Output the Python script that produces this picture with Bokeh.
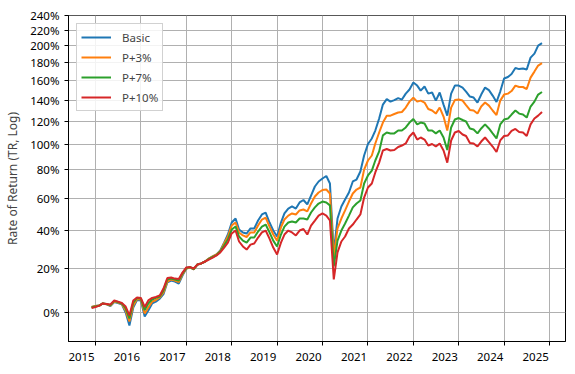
from datetime import datetime
import pandas as pd
from bokeh.plotting import figure
from bokeh.models import (Range1d, FixedTicker, CustomJSTickFormatter, DatetimeAxis,
                          Legend, LegendItem, ColumnDataSource)
from bokeh.embed import file_html
from bokeh.resources import INLINE

# ---- data (cumulative total return, %, monthly) ----
start_month = "2014-12-01"
n_months = 120

basic = [2.3, 2.7, 2.9, 3.8, 3.4, 2.7, 4.4, 4.0, 3.4, 0.0, -5.2, 2.1,
         5.3, 5.1, -1.6, 0.8, 3.8, 4.6, 5.9, 7.9, 13.2, 14.1, 13.6, 12.7,
         16.5, 19.9, 20.4, 19.4, 21.9, 22.4, 23.4, 24.9, 26.0, 27.0, 29.1, 33.4,
         37.9, 44.9, 47.3, 40.8, 39.1, 38.5, 41.4, 41.4, 46.1, 49.8, 51.0, 44.9,
         40.2, 36.8, 44.9, 50.4, 53.5, 54.8, 53.5, 57.4, 59.0, 56.1, 61.9, 68.1,
         71.6, 73.7, 75.5, 70.2, 28.1, 47.3, 54.8, 59.3, 64.0, 71.6, 73.0, 78.8,
         91.0, 100.3, 104.9, 111.7, 122.4, 135.6, 141.0, 138.5, 140.0, 142.0, 140.5, 146.5,
         150.7, 158.0, 154.8, 149.6, 153.8, 146.5, 147.6, 139.5, 147.6, 135.6, 125.1, 146.5,
         154.8, 154.8, 152.7, 148.6, 143.5, 142.5, 137.6, 145.5, 152.7, 150.1, 144.5, 138.1,
         148.6, 162.3, 164.0, 167.2, 173.9, 172.7, 173.3, 172.2, 185.9, 190.7, 200.4, 203.6]

p3 = [2.3, 2.7, 2.9, 3.8, 3.4, 2.9, 4.6, 4.2, 3.6, 0.8, -3.6, 2.9,
      5.7, 5.5, -0.4, 2.1, 4.6, 5.3, 6.4, 8.6, 13.6, 14.6, 14.1, 13.4,
      17.0, 19.9, 20.4, 19.4, 21.9, 22.4, 23.4, 24.9, 26.0, 27.0, 28.8, 32.9,
      36.8, 43.1, 44.9, 39.1, 37.4, 36.5, 39.1, 39.1, 43.1, 46.7, 47.9, 42.5,
      37.9, 34.5, 42.0, 46.7, 49.1, 50.4, 49.8, 52.3, 52.9, 51.7, 56.7, 61.3,
      64.0, 65.7, 66.0, 63.3, 26.0, 41.4, 47.3, 52.3, 58.0, 63.3, 66.0, 67.4,
      80.2, 87.1, 91.0, 100.7, 110.0, 118.8, 125.1, 125.1, 126.6, 128.0, 128.5, 132.7,
      138.5, 142.5, 138.5, 139.5, 137.6, 131.3, 129.9, 127.0, 132.7, 124.2, 111.7, 132.7,
      140.0, 140.5, 139.5, 135.1, 130.4, 129.9, 127.1, 133.7, 137.6, 134.6, 129.9, 125.6,
      139.5, 145.5, 146.5, 149.1, 154.8, 153.3, 153.3, 151.2, 163.3, 169.9, 176.7, 179.5]

p7 = [2.1, 2.5, 2.9, 3.8, 3.6, 3.1, 4.9, 4.4, 3.8, 1.7, -2.4, 4.2,
      6.2, 5.9, 1.0, 3.8, 5.5, 6.2, 6.8, 9.5, 14.6, 15.0, 14.6, 14.1,
      17.5, 20.1, 20.6, 19.6, 21.9, 22.4, 23.4, 24.7, 25.7, 26.7, 28.6, 31.8,
      35.1, 40.8, 42.5, 36.8, 34.5, 33.4, 36.2, 36.2, 39.6, 42.5, 43.7, 39.1,
      34.5, 31.3, 37.9, 42.5, 44.9, 45.5, 44.9, 47.3, 47.3, 46.7, 51.0, 54.2,
      56.7, 58.0, 57.4, 55.5, 20.9, 34.5, 40.2, 44.3, 49.1, 54.2, 56.7, 58.7,
      70.2, 75.9, 79.5, 87.1, 94.2, 107.5, 110.0, 109.2, 109.2, 111.7, 111.7, 114.4,
      118.8, 122.0, 117.1, 118.8, 118.0, 111.7, 111.7, 109.2, 111.7, 105.7, 95.4, 114.4,
      121.5, 122.9, 121.1, 119.7, 113.5, 112.6, 109.2, 113.5, 117.1, 113.5, 109.2, 104.9,
      117.1, 121.5, 122.4, 126.1, 129.9, 127.0, 126.1, 123.3, 133.7, 138.5, 145.5, 148.1]

p10 = [1.9, 2.3, 2.9, 3.8, 3.6, 3.4, 5.1, 4.6, 4.0, 2.5, -1.2, 5.1,
       6.4, 6.2, 2.3, 5.1, 6.2, 6.6, 7.3, 10.4, 15.3, 15.5, 15.0, 14.8,
       17.9, 20.4, 20.6, 19.9, 21.9, 22.4, 23.4, 24.4, 25.4, 26.5, 28.1, 30.7,
       33.4, 38.5, 40.2, 34.0, 31.3, 29.6, 32.3, 32.9, 36.2, 39.1, 40.2, 35.6,
       30.7, 27.0, 33.4, 37.9, 40.2, 39.1, 37.4, 40.2, 41.1, 37.9, 43.1, 46.1,
       49.1, 50.4, 49.1, 46.1, 14.6, 28.1, 34.0, 36.8, 41.4, 43.7, 46.7, 49.8,
       60.6, 67.4, 70.2, 78.1, 85.5, 95.0, 96.2, 95.0, 95.4, 97.8, 99.0, 100.7,
       106.6, 110.0, 104.0, 105.7, 104.0, 99.0, 100.3, 98.2, 100.7, 95.0, 85.5, 103.2,
       110.0, 111.3, 108.3, 107.0, 101.1, 100.7, 98.2, 102.3, 105.7, 101.9, 98.2, 93.8,
       103.2, 107.0, 107.5, 111.3, 113.1, 110.4, 110.0, 107.0, 117.1, 122.4, 125.1, 128.5]

series_names = ["Basic", "P+3%", "P+7%", "P+10%"]
series_values = [basic, p3, p7, p10]
colors = ["#1f77b4", "#ff7f0e", "#2ca02c", "#d62728"]
y_tick_pct = [0, 20, 40, 60, 80, 100, 120, 140, 160, 180, 200, 220, 240]
years = list(range(2015, 2026))

FONT = "Noto Sans"
DAY_MS = 86400000.0
LABEL_SHIFT_DAYS = 112  # year labels sit right-aligned to their tick


def ms(d):
    return (d - datetime(1970, 1, 1)).total_seconds() * 1000.0


dates = pd.date_range(start_month, periods=n_months, freq="MS")

p = figure(width=573, height=370, x_axis_type="datetime", y_axis_type="log",
           output_backend="svg", toolbar_location=None,
           x_range=Range1d(datetime(2014, 5, 29), datetime(2025, 5, 9)),
           y_range=Range1d(0.8874, 3.401),
           min_border_left=68, min_border_right=8, min_border_top=15,
           min_border_bottom=29)

p.background_fill_color = "white"
p.border_fill_color = "white"
p.outline_line_color = "black"
p.outline_line_alpha = 1.0
p.outline_line_width = 1

items = []
for name, vals, col in zip(series_names, series_values, colors):
    src = ColumnDataSource(dict(x=dates, y=[1 + v / 100.0 for v in vals]))
    r = p.line("x", "y", source=src, line_color=col, line_width=2)
    items.append(LegendItem(label=name, renderers=[r]))

legend = Legend(items=items, location="top_left")
legend.label_text_font = FONT
legend.label_text_font_size = "11.5px"
legend.glyph_width = 30
legend.glyph_height = 18
legend.label_height = 18
legend.label_standoff = 11
legend.spacing = 2
legend.padding = 4
legend.margin = 8
legend.border_line_color = "#cccccc"
legend.border_line_alpha = 0.9
legend.background_fill_alpha = 0.85
p.add_layout(legend)

# y axis
p.yaxis.ticker = FixedTicker(ticks=[1 + t / 100.0 for t in y_tick_pct], minor_ticks=[])
p.yaxis.formatter = CustomJSTickFormatter(code="return Math.round((tick - 1) * 100) + '%';")
p.yaxis.axis_label = "Rate of Return (TR, Log)"
p.yaxis.axis_label_text_font = FONT
p.yaxis.axis_label_text_font_size = "12px"
p.yaxis.axis_label_text_font_style = "normal"
p.yaxis.axis_label_standoff = 6

# x axis: tick marks at each 1 January, no labels
p.xaxis.ticker = FixedTicker(ticks=[ms(datetime(y, 1, 1)) for y in years], minor_ticks=[])
p.xaxis.formatter = CustomJSTickFormatter(code="return '';")
p.xaxis.major_label_standoff = 0

for ax in (p.xaxis, p.yaxis):
    ax.axis_line_color = "black"
    ax.major_tick_line_color = "black"
    ax.major_tick_out = 4
    ax.major_tick_in = 0
    ax.minor_tick_line_color = None
    ax.major_label_text_font = FONT
    ax.major_label_text_font_size = "11.5px"
    ax.major_label_text_color = "black"
p.yaxis.major_label_standoff = 5

# second x axis carrying the year labels, right-aligned against the ticks
shift = LABEL_SHIFT_DAYS * DAY_MS
year_axis = DatetimeAxis(
    ticker=FixedTicker(ticks=[ms(datetime(y, 1, 1)) - shift for y in years], minor_ticks=[]),
    formatter=CustomJSTickFormatter(
        code="return String(new Date(tick + %f).getUTCFullYear());" % shift),
    axis_line_color=None, major_tick_line_color=None, minor_tick_line_color=None,
    major_tick_out=0, major_tick_in=0, major_label_standoff=7,
    major_label_text_font=FONT, major_label_text_font_size="11.5px",
    major_label_text_color="black")
p.add_layout(year_axis, "below")

p.xgrid.grid_line_color = "#b0b0b0"
p.ygrid.grid_line_color = "#b0b0b0"
p.xgrid.grid_line_width = 1
p.ygrid.grid_line_width = 1

open("out.html", "w").write(file_html(p, INLINE))
